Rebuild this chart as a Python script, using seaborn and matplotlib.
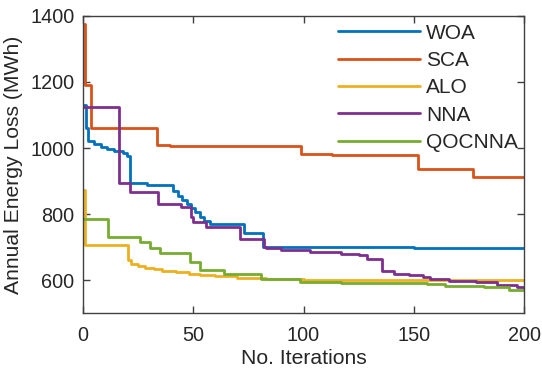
import matplotlib
matplotlib.use("Agg")
import matplotlib.pyplot as plt
import seaborn as sns
import pandas as pd

# ---- data ----
algorithms = ["WOA", "SCA", "ALO", "NNA", "QOCNNA"]

woa_iter = [0, 1.5, 2.5, 5, 8, 11, 14, 18, 20, 21.5, 29, 41, 43, 45, 47, 49, 51, 53, 55, 57.5, 73, 81.5, 150, 200]
woa_loss = [1130, 1060, 1022, 1012, 1004, 997, 991, 984, 975, 893, 888, 870, 855, 842, 832, 818, 805, 792, 778, 770, 742, 700, 698, 698]

sca_iter = [0, 1, 3.5, 33.5, 39.5, 99, 113, 152, 159, 177, 200]
sca_loss = [1375, 1190, 1062, 1009, 1006, 982, 979, 938, 935, 913, 913]

alo_iter = [0, 1, 20.5, 22, 25, 28, 32, 36, 42, 48, 53, 60, 70, 83, 100, 200]
alo_loss = [872, 706, 662, 650, 643, 638, 633, 628, 624, 619, 615, 611, 607, 603, 600, 600]

nna_iter = [0, 16.5, 21.5, 34, 44.5, 49, 50, 56, 71, 82, 83, 90, 103, 117, 125, 129, 135.5, 141, 148, 154, 157.5, 166, 178, 187.5, 197, 200]
nna_loss = [1123, 893, 868, 830, 822, 790, 777, 762, 726, 700, 696, 690, 686, 680, 676, 664, 628, 620, 615, 610, 602, 598, 593, 585, 580, 576]

qoc_iter = [0, 11.5, 26, 30.5, 35, 48.5, 53, 64, 80.5, 98.5, 117, 156, 164, 182, 193, 200]
qoc_loss = [785, 731, 716, 696, 683, 655, 630, 620, 603, 595, 591, 588, 582, 578, 570, 570]

colors = ["#0072BD", "#D95319", "#EDB120", "#7E2F8E", "#77AC30"]

frames = []
for name, xs, ys in zip(algorithms,
                        [woa_iter, sca_iter, alo_iter, nna_iter, qoc_iter],
                        [woa_loss, sca_loss, alo_loss, nna_loss, qoc_loss]):
    frames.append(pd.DataFrame({"Iteration": xs, "Loss": ys, "Algorithm": name}))
df = pd.concat(frames, ignore_index=True)

# ---- style ----
sns.set_style("ticks")
plt.rcParams["font.family"] = ["Liberation Sans", "DejaVu Sans"]
txt = "#262626"
plt.rcParams.update({
    "text.color": txt, "axes.labelcolor": txt,
    "xtick.color": "#404040", "ytick.color": "#404040",
    "xtick.labelcolor": txt, "ytick.labelcolor": txt,
    "axes.edgecolor": "#404040",
})

fig = plt.figure(figsize=(5.42, 3.71), dpi=100)
ax = fig.add_axes([0.153, 0.156, 0.814, 0.801])

sns.lineplot(data=df, x="Iteration", y="Loss", hue="Algorithm",
             hue_order=algorithms, palette=colors, estimator=None,
             sort=True, drawstyle="steps-post", linewidth=2.0, ax=ax)

ax.set_xlim(0, 200)
ax.set_ylim(500, 1400)
ax.set_xticks([0, 50, 100, 150, 200])
ax.set_yticks([600, 800, 1000, 1200, 1400])
ax.set_xlabel("No. Iterations", fontsize=15.2, labelpad=3)
ax.set_ylabel("Annual Energy Loss (MWh)", fontsize=15.2, labelpad=5)
ax.tick_params(direction="in", length=5, width=1, labelsize=14.3,
               top=True, right=True)
ax.tick_params(axis="x", pad=9)
ax.tick_params(axis="y", pad=6)
for s in ax.spines.values():
    s.set_linewidth(1.0)
    s.set_visible(True)

ax.legend(loc="upper right", bbox_to_anchor=(1.0, 0.995), frameon=False,
          fontsize=15, handlelength=3.9, handletextpad=0.3,
          labelspacing=0.4, borderaxespad=0.1, borderpad=0.2)

fig.savefig("out.png", dpi=100)
